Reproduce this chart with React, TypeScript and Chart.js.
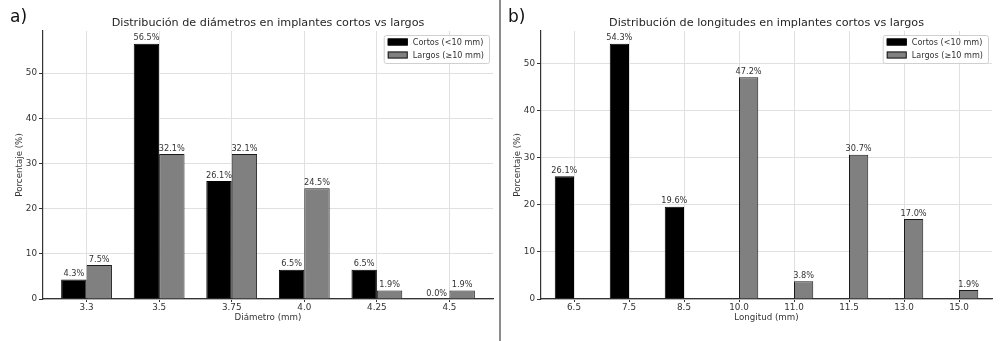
import React, { useEffect, useRef } from 'react';
import { Chart, registerables } from 'chart.js';

Chart.register(...registerables);

// ---------- data ----------
const diamCategories = ['3.3', '3.5', '3.75', '4.0', '4.25', '4.5'];
const diamCortos = [4.3, 56.5, 26.1, 6.5, 6.5, 0.0];
const diamLargos = [7.5, 32.1, 32.1, 24.5, 1.9, 1.9];

const longCategories = ['6.5', '7.5', '8.5', '10.0', '11.0', '11.5', '13.0', '15.0'];
const longCortos = [26.1, 54.3, 19.6, null, null, null, null, null];
const longLargos = [null, null, null, 47.2, 3.8, 30.7, 17.0, 1.9];

const yTicks = [0, 10, 20, 30, 40, 50];
const seriesNames = ['Cortos (<10 mm)', 'Largos (≥10 mm)'];
const panelLetters = ['a)', 'b)'];
const panelTitles = [
  'Distribución de diámetros en implantes cortos vs largos',
  'Distribución de longitudes en implantes cortos vs largos',
];
const xTitles = ['Diámetro (mm)', 'Longitud (mm)'];
const yTitle = 'Porcentaje (%)';

const FONT = '"DejaVu Sans", "Liberation Sans", sans-serif';
const H = 341;

const fillColors = ['#000000', '#808080'];
const edgeColors = ['#000000', '#1a1a1a'];

type PanelCfg = {
  left: number;
  width: number;
  yAxisWidth: number;
  padRight: number;
  yTitlePad: number;
  categories: string[];
  cortos: (number | null)[];
  largos: (number | null)[];
  title: string;
  xTitle: string;
};

const overlayPlugin = {
  id: 'overlay',
  afterDatasetsDraw(chart: any, _args: any, opts: any) {
    const ctx: CanvasRenderingContext2D = chart.ctx;
    const ca = chart.chartArea;
    ctx.save();
    // value labels
    ctx.font = `8.2px ${FONT}`;
    ctx.fillStyle = '#333333';
    ctx.textAlign = 'center';
    ctx.textBaseline = 'bottom';
    chart.data.datasets.forEach((ds: any, di: number) => {
      const meta = chart.getDatasetMeta(di);
      meta.data.forEach((el: any, i: number) => {
        const v = ds.data[i].y;
        if (v === null || v === undefined) return;
        ctx.fillText(v.toFixed(1) + '%', el.x, el.y - 1.5);
      });
    });
    // title
    ctx.font = `11.2px ${FONT}`;
    ctx.fillStyle = '#262626';
    ctx.textAlign = 'center';
    ctx.textBaseline = 'alphabetic';
    ctx.fillText(opts.title, (ca.left + ca.right) / 2, 26);
    // legend
    ctx.font = `8.1px ${FONT}`;
    const tw = Math.max(...seriesNames.map((s) => ctx.measureText(s).width));
    const w = 4 + 20 + 5 + tw + 5;
    const h = 28;
    const x0 = ca.right - 4 - w;
    const y0 = ca.top + 4;
    ctx.beginPath();
    ctx.roundRect(x0 + 0.5, y0 + 0.5, w, h, 2);
    ctx.fillStyle = 'rgba(255,255,255,0.85)';
    ctx.fill();
    ctx.strokeStyle = '#d0d0d0';
    ctx.lineWidth = 1;
    ctx.stroke();
    seriesNames.forEach((name, i) => {
      const cy = y0 + 7 + i * 13;
      ctx.fillStyle = fillColors[i];
      ctx.fillRect(x0 + 4, cy - 3.5, 20, 7);
      ctx.strokeStyle = edgeColors[i];
      ctx.strokeRect(x0 + 4.5, cy - 3, 19, 6);
      ctx.fillStyle = '#333333';
      ctx.textAlign = 'left';
      ctx.textBaseline = 'middle';
      ctx.fillText(name, x0 + 29, cy + 0.5);
    });
    ctx.restore();
  },
};

function Panel({ cfg }: { cfg: PanelCfg }) {
  const ref = useRef<HTMLCanvasElement>(null);
  useEffect(() => {
    const n = cfg.categories.length;
    const maxV = Math.max(...(cfg.cortos.concat(cfg.largos).filter((v) => v !== null) as number[]));
    const tickFont = { family: FONT, size: 8.8 };
    const gridCommon = {
      color: '#e0e0e0',
      lineWidth: 1,
      tickColor: '#333333',
      tickWidth: 1,
    };
    const chart = new Chart(ref.current as HTMLCanvasElement, {
      type: 'bar',
      data: {
        datasets: [
          {
            label: seriesNames[0],
            data: cfg.cortos.map((v, i) => ({ x: i, y: v })) as any,
            backgroundColor: fillColors[0],
            borderColor: edgeColors[0],
            borderWidth: 1,
            categoryPercentage: 0.7,
            barPercentage: 1.0,
          },
          {
            label: seriesNames[1],
            data: cfg.largos.map((v, i) => ({ x: i, y: v })) as any,
            backgroundColor: fillColors[1],
            borderColor: edgeColors[1],
            borderWidth: 1,
            categoryPercentage: 0.7,
            barPercentage: 1.0,
          },
        ],
      },
      options: {
        responsive: false,
        animation: false,
        devicePixelRatio: 1,
        layout: { padding: { top: 31, right: cfg.padRight, bottom: 0, left: 0 } },
        plugins: {
          legend: { display: false },
          title: { display: false },
          tooltip: { enabled: false },
          overlay: { title: cfg.title },
        } as any,
        scales: {
          x: {
            type: 'linear',
            min: -0.6,
            max: n - 1 + 0.6,
            offset: false,
            afterBuildTicks: (s: any) => {
              s.ticks = cfg.categories.map((_, i) => ({ value: i }));
            },
            afterFit: (s: any) => {
              s.height = 42;
            },
            ticks: {
              callback: (v: any) => cfg.categories[v] ?? '',
              font: tickFont,
              color: '#333333',
              padding: 0,
              maxRotation: 0,
              autoSkip: false,
            },
            grid: { ...gridCommon, tickLength: 3, offset: false },
            border: { display: true, color: '#333333', width: 1.2 },
            title: {
              display: true,
              text: cfg.xTitle,
              font: { family: FONT, size: 8.7 },
              color: '#333333',
              padding: { top: 0, bottom: 18 },
            },
          },
          y: {
            type: 'linear',
            min: 0,
            max: maxV * 1.05,
            afterBuildTicks: (s: any) => {
              s.ticks = yTicks.map((v) => ({ value: v }));
            },
            afterFit: (s: any) => {
              s.width = cfg.yAxisWidth;
            },
            ticks: { font: tickFont, color: '#333333', padding: 2 },
            grid: { ...gridCommon, tickLength: 4 },
            border: { display: true, color: '#333333', width: 1.2 },
            title: {
              display: true,
              text: yTitle,
              font: { family: FONT, size: 8.7 },
              color: '#333333',
              padding: { top: cfg.yTitlePad, bottom: 0 },
            },
          },
        } as any,
      },
      plugins: [overlayPlugin],
    });
    return () => chart.destroy();
  }, []);
  return (
    <div style={{ position: 'absolute', left: cfg.left, top: 0, width: cfg.width, height: H }}>
      <canvas ref={ref} width={cfg.width} height={H} style={{ display: 'block' }} />
    </div>
  );
}

const panels: PanelCfg[] = [
  {
    left: 0,
    width: 497,
    yAxisWidth: 43,
    padRight: 4,
    yTitlePad: 15,
    categories: diamCategories,
    cortos: diamCortos,
    largos: diamLargos,
    title: panelTitles[0],
    xTitle: xTitles[0],
  },
  {
    left: 502,
    width: 498,
    yAxisWidth: 39,
    padRight: 8,
    yTitlePad: 11,
    categories: longCategories,
    cortos: longCortos,
    largos: longLargos,
    title: panelTitles[1],
    xTitle: xTitles[1],
  },
];

export default function App() {
  return (
    <div style={{ position: 'absolute', left: 0, top: 0, width: 1000, height: H, background: '#fff', overflow: 'hidden' }}>
      <Panel cfg={panels[0]} />
      <Panel cfg={panels[1]} />
      <div style={{ position: 'absolute', left: 499, top: 0, width: 2, height: H, background: '#8c8c8c' }} />
      <div
        style={{
          position: 'absolute',
          left: 10,
          top: 8,
          fontFamily: FONT,
          fontSize: 17,
          lineHeight: '17px',
          color: '#111',
        }}
      >
        {panelLetters[0]}
      </div>
      <div
        style={{
          position: 'absolute',
          left: 508,
          top: 8,
          fontFamily: FONT,
          fontSize: 17,
          lineHeight: '17px',
          color: '#111',
        }}
      >
        {panelLetters[1]}
      </div>
    </div>
  );
}
